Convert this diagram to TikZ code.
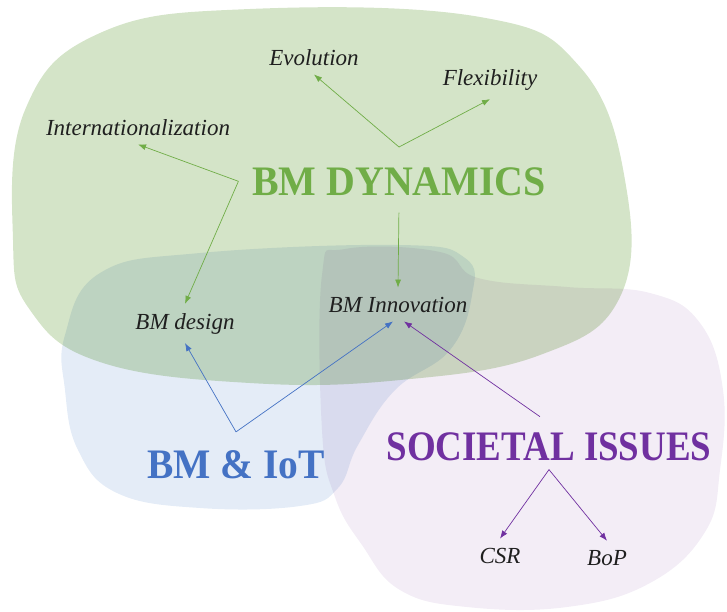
\documentclass[tikz,border=0pt]{standalone}
\usepackage{fontspec}
\setmainfont{Liberation Serif}
\usetikzlibrary{arrows,arrows.meta,positioning}
\definecolor{bmgreen}{RGB}{112,173,71}
\definecolor{bmblue}{RGB}{68,114,196}
\definecolor{bmpurple}{RGB}{112,48,160}
\definecolor{blobgreen}{RGB}{212,228,200}
\definecolor{blobblue}{RGB}{228,236,247}
\definecolor{blobpurple}{RGB}{243,237,246}
\colorlet{txt}{black!88}
\newcommand\labfont{\itshape\fontsize{23}{27}\selectfont}
\newcommand\ttlfont{\bfseries\fontsize{42}{48}\selectfont}

\begin{document}
\begin{tikzpicture}[x=1pt,y=-1pt,
    garrow/.style={draw=bmgreen,line width=.7pt,-{Latex[length=8pt,width=6pt]}},
    barrow/.style={draw=bmblue,line width=.7pt,-{Latex[length=8pt,width=6pt]}},
    parrow/.style={draw=bmpurple,line width=.7pt,-{Latex[length=8pt,width=6pt]}}]%
        \useasboundingbox (0,0) rectangle (727,611);%%
        %% the three areas
        \begin{scope}[blend group=multiply]
        \fill[blobgreen] plot[smooth cycle,tension=.7] coordinates {(13,240) (25,110) (100,33) (250,9) (480,17) (580,67) (625,180) (620,297) (540,355) (400,380) (250,383) (100,362) (30,310)};%%
        \fill[blobblue] plot[smooth cycle,tension=.7] coordinates {(65,335) (100,273) (200,253) (400,245) (465,258) (472,295) (450,350) (395,390) (358,445) (338,488) (300,506) (200,508) (117,493) (78,450) (65,390)};%%
        \fill[blobpurple] plot[smooth cycle,tension=.7] coordinates {(322,275) (345,249) (440,252) (478,278) (567,287) (650,293) (700,323) (723,390) (720,470) (705,532) (650,583) (567,607) (467,607) (400,590) (362,545) (335,497) (322,430)};%%
        \end{scope}
        %% labels
        \begin{scope}[inner sep=9pt,anchor=base]
        \tikzstyle{every node}=[font=\labfont,text=txt] %%
        \node (evo) at (314,65) {Evolution}; %%
        \node (flex) at (490,85) {Flexibility}; %%
        \node (intl) at (138,135) {Internationalization}; %%
        \node (des) at (185,329) {BM design}; %%
        \node (inno) at (398,312) {BM Innovation}; %%
        \node (csr) at (500,563) {CSR}; %%
        \node (bop) at (607,565) {BoP}; %%
        \end{scope}
        \begin{scope}[inner sep=9pt,anchor=base]
        \tikzstyle{every node}=[font=\ttlfont] %%
        \node[text=bmgreen,xscale=.95] (dyn) at (399,195) {BM DYNAMICS}; %%
        \node[text=bmblue,xscale=.94] (iot) at (236,478) {BM \& IoT}; %%
        \node[text=bmpurple,xscale=.88] (soc) at (549,460) {SOCIETAL ISSUES}; %%
        \end{scope}
        \coordinate (dtop) at ([yshift=11pt]dyn.north); %%
        \coordinate (dleft) at ([xshift=-5pt]dyn.west); %%
        \coordinate (itop) at ([yshift=9pt]iot.north); %%
        %% arrows
        \draw[garrow] (dtop)--(evo.south); %%
        \draw[garrow] (dtop)--(flex.south); %%
        \draw[garrow] (dleft)--(intl.south); %%
        \draw[garrow] (dleft)--(des.north); %%
        \draw[garrow,shorten <=8pt] (dyn.south)--(inno.north); %%
        \draw[barrow] (itop)--(des.south); %%
        \draw[barrow] (itop)--([xshift=-5pt]inno.south); %%
        \draw[parrow,shorten <=11pt] (soc.north)--([xshift=6pt]inno.south); %%
        \draw[parrow] (soc.south)--(csr.north); %%
        \draw[parrow] (soc.south)--(bop.north); %%
\end{tikzpicture}
\end{document}
